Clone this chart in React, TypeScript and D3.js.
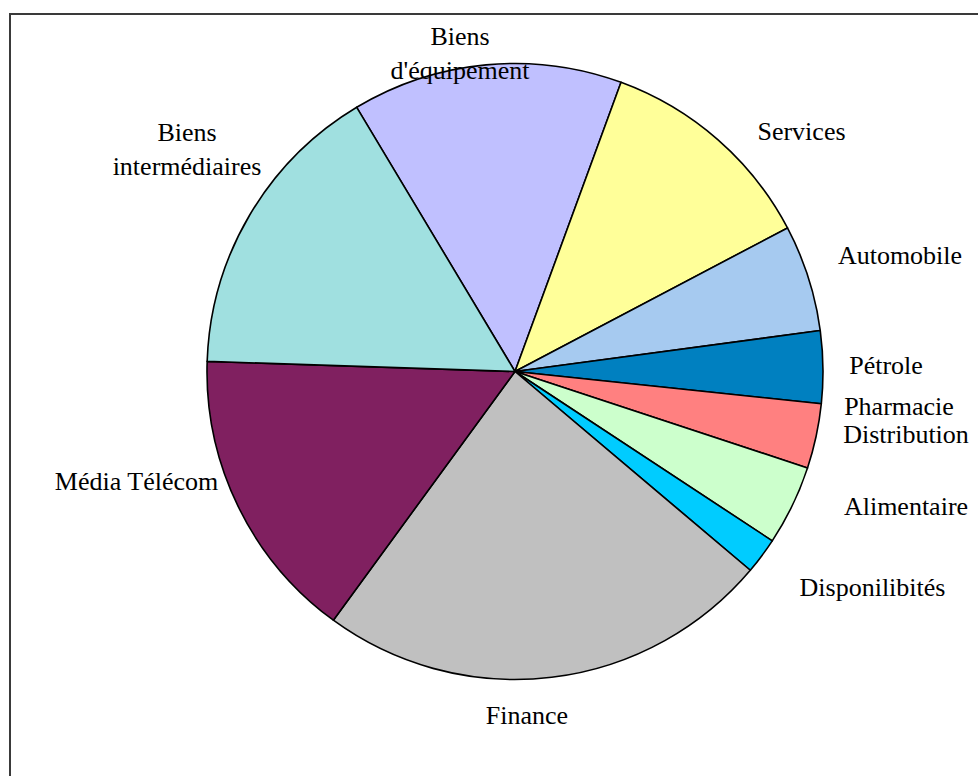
import React from "react";
import * as d3 from "d3";

// Data (clockwise from the slice that starts at the top-left)
const categories = [
  "Biens d'équipement",
  "Services",
  "Automobile",
  "Pétrole",
  "Pharmacie Distribution",
  "Alimentaire",
  "Disponilibités",
  "Finance",
  "Média Télécom",
  "Biens intermédiaires",
];
const values = [14.2, 11.7, 5.6, 3.8, 3.4, 4.2, 1.9, 23.9, 15.5, 15.9];
const colors = [
  "#C0C0FF",
  "#FFFF99",
  "#A6CAF0",
  "#0080C0",
  "#FF8080",
  "#CCFFCC",
  "#00CCFF",
  "#C0C0C0",
  "#802060",
  "#A0E0E0",
];
// label lines
const labelLines: string[][] = [
  ["Biens", "d'équipement"],
  ["Services"],
  ["Automobile"],
  ["Pétrole"],
  ["Pharmacie", "Distribution"],
  ["Alimentaire"],
  ["Disponilibités"],
  ["Finance"],
  ["Média Télécom"],
  ["Biens", "intermédiaires"],
];

// Layout
const W = 978;
const H = 776;
const CX = 515;
const CY = 371.5;
const R = 308;
const START = (-30.93 * Math.PI) / 180;
// label anchor (center x, first baseline y) and line height
const labelLayout: { x: number[]; y: number[]; lh: number }[] = [
  { x: [460, 460], y: [44.5, 78.5], lh: 34 },
  { x: [801.5], y: [139.5], lh: 0 },
  { x: [900], y: [263.5], lh: 0 },
  { x: [886], y: [374], lh: 0 },
  { x: [899, 906], y: [414.5, 442.5], lh: 28 },
  { x: [906], y: [515], lh: 0 },
  { x: [872.5], y: [596], lh: 0 },
  { x: [527], y: [723.5], lh: 0 },
  { x: [136.5], y: [489.5], lh: 0 },
  { x: [187, 187], y: [140.5, 175], lh: 34 },
];

export default function App() {
  const pie = d3
    .pie<number>()
    .sort(null)
    .value((d) => d)
    .startAngle(START)
    .endAngle(START + 2 * Math.PI);
  const arcs = pie(values);
  const arc = d3.arc<d3.PieArcDatum<number>>().innerRadius(0).outerRadius(R);

  return (
    <svg
      width={W}
      height={H}
      style={{ position: "absolute", left: 0, top: 0, background: "#fff" }}
      fontFamily="'Liberation Serif', 'Times New Roman', serif"
    >
      <rect x={0} y={0} width={W} height={H} fill="#ffffff" />
      <rect
        x={10}
        y={14}
        width={W + 20}
        height={H + 20}
        fill="#ffffff"
        stroke="#3a3a3a"
        strokeWidth={2}
      />
      <g transform={`translate(${CX},${CY})`}>
        {arcs.map((a, i) => (
          <path
            key={categories[i]}
            d={arc(a) || ""}
            fill={colors[i]}
            stroke="#000"
            strokeWidth={1.6}
            strokeLinejoin="round"
          />
        ))}
      </g>
      <g fontSize={26} fill="#000" textAnchor="middle">
        {labelLines.map((lines, i) =>
          lines.map((t, j) => (
            <text
              key={categories[i] + j}
              x={labelLayout[i].x[j]}
              y={labelLayout[i].y[j]}
            >
              {t}
            </text>
          ))
        )}
      </g>
    </svg>
  );
}
